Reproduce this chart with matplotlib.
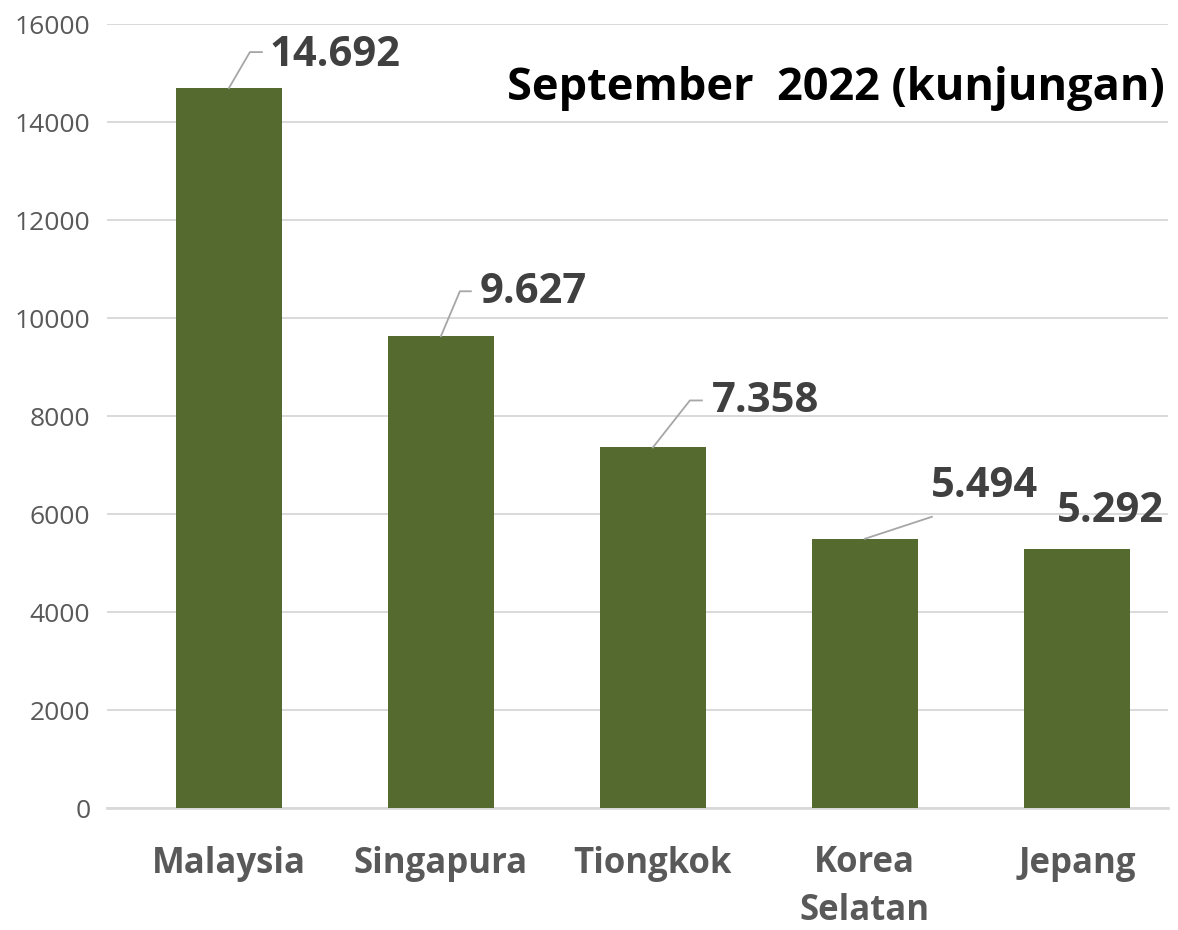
import matplotlib
matplotlib.use("Agg")
import matplotlib.pyplot as plt
import numpy as np

countries = ["Malaysia", "Singapura", "Tiongkok", "Korea\nSelatan", "Jepang"]
visits = [14692, 9627, 7358, 5494, 5292]
value_labels = ["14.692", "9.627", "7.358", "5.494", "5.292"]
title = "September  2022 (kunjungan)"

# label offsets in pixels from bar top: (text dx, text dy, leader points)
label_offsets = [
    (41, 33, [(21, 36), (33, 36)]),
    (39, 44, [(19, 45), (30, 45)]),
    (59, 46, [(37, 47), (49, 47)]),
    (66, 52, [(67, 22)]),
    (34, 37, []),
]

plt.rcParams['font.family'] = ['Open Sans', 'DejaVu Sans']

fig = plt.figure(figsize=(11.78, 9.3), dpi=100)
ax = fig.add_axes([107/1178, 1 - 808/930, 1061/1178, 784/930])

x = np.arange(len(countries))
ax.bar(x, visits, width=0.5, color='#546A2E', zorder=3)

ax.set_ylim(0, 16000)
ax.set_xlim(-0.575, 4.43)
ax.set_yticks(np.arange(0, 16001, 2000))
ax.yaxis.grid(True, color='#D9D9D9', linewidth=1.4, zorder=0)
for s in ['top', 'right', 'left']:
    ax.spines[s].set_visible(False)
ax.spines['bottom'].set_color('#D9D9D9')
ax.spines['bottom'].set_linewidth(2)
ax.tick_params(axis='y', length=0, pad=12, labelsize=19, labelcolor='#595959')
ax.tick_params(axis='x', length=0, pad=27)
ax.set_xticks(x)
ax.set_xticklabels(countries, fontsize=25, fontweight='bold', color='#595959',
                   linespacing=1.42, va='top')

def shift(i, v, dx, dy):
    p = ax.transData.transform((i, v)) + np.array([dx, dy])
    return ax.transData.inverted().transform(p)

fig.canvas.draw()
for i, (v, lab, (tdx, tdy, pts)) in enumerate(zip(visits, value_labels, label_offsets)):
    if pts:
        line = [shift(i, v, 0, 0)] + [shift(i, v, a, b) for a, b in pts]
        line = np.array(line)
        ax.plot(line[:, 0], line[:, 1], color='#A6A6A6', linewidth=1.3, zorder=4)
    tx, ty = shift(i, v, tdx, tdy)
    if pts:
        ax.text(tx, ty, lab, ha='left', va='center', fontsize=30, fontweight='bold',
                color='#404040', zorder=5)
    else:
        ax.text(tx, ty, lab, ha='center', va='center', fontsize=30, fontweight='bold',
                color='#404040', zorder=5)

ax.text(0.997, 0.918, title, transform=ax.transAxes, ha='right', va='center',
        fontsize=32.5, fontweight='bold', color='black')

fig.savefig("out.png", dpi=100)
